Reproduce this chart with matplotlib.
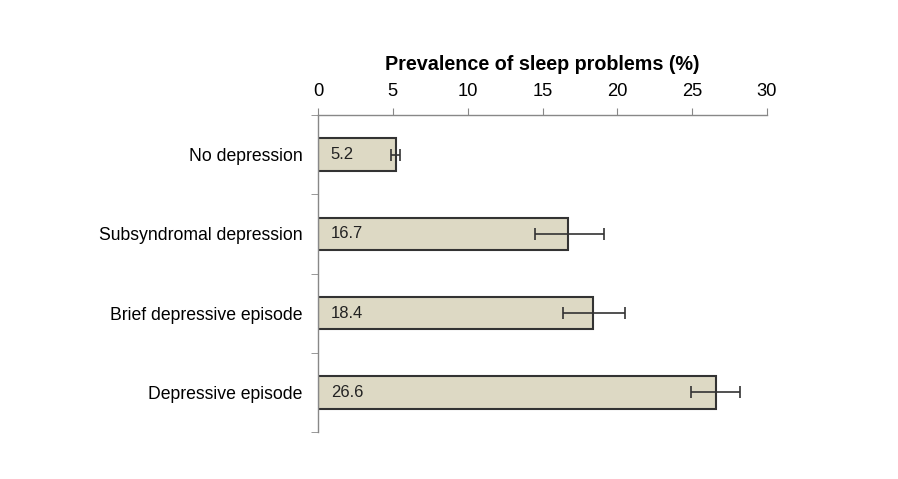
import matplotlib.pyplot as plt

plt.rcParams['font.family'] = ['Liberation Sans', 'DejaVu Sans']

categories = ['No depression', 'Subsyndromal depression', 'Brief depressive episode', 'Depressive episode']
prevalence = [5.2, 16.7, 18.4, 26.6]
ci_low = [4.9, 14.5, 16.4, 24.9]
ci_high = [5.5, 19.1, 20.5, 28.2]

fig = plt.figure(figsize=(8.98, 4.79), dpi=100)
ax = fig.add_axes([318 / 898, 1 - 432 / 479, 449 / 898, 317 / 479])

ypos = list(range(len(categories)))
err = [[p - lo for p, lo in zip(prevalence, ci_low)],
       [hi - p for p, hi in zip(prevalence, ci_high)]]

ax.barh(ypos, prevalence, height=0.41, color='#ddd9c4', edgecolor='#333333', linewidth=1.5,
        xerr=err, error_kw=dict(ecolor='#333333', elinewidth=1.2, capsize=4, capthick=1.2))

for y, v in zip(ypos, prevalence):
    ax.text(0.85, y, f'{v}', va='center', ha='left', fontsize=12, color='#222222')

ax.set_xlim(0, 30)
ax.set_ylim(3.5, -0.5)
ax.xaxis.tick_top()
ax.xaxis.set_label_position('top')
ax.set_xticks([0, 5, 10, 15, 20, 25, 30])
ax.set_xlabel('Prevalence of sleep problems (%)', fontsize=14.2, fontweight='bold', labelpad=9)

ax.set_yticks(ypos)
ax.set_yticklabels(categories, fontsize=12.7)
ax.set_yticks([-0.5, 0.5, 1.5, 2.5, 3.5], minor=True)
ax.tick_params(axis='y', which='major', length=0, pad=11)
ax.tick_params(axis='y', which='minor', length=5, color='#888888', direction='out')
ax.tick_params(axis='x', length=5, color='#888888', labelsize=13.2, pad=6)

for side in ['right', 'bottom']:
    ax.spines[side].set_visible(False)
for side in ['top', 'left']:
    ax.spines[side].set_color('#888888')
    ax.spines[side].set_linewidth(1.0)

fig.savefig('out.png', dpi=100)
